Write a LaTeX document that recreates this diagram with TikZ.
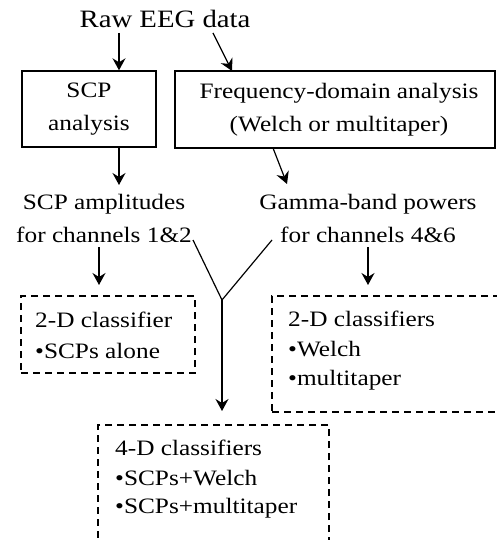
\documentclass[tikz,border=0pt]{standalone}
\usepackage{fontspec}
\setmainfont[FakeStretch=1.15]{Liberation Serif}
\usetikzlibrary{arrows.meta}
\begin{document}
\begin{tikzpicture}[x=1pt,y=-1pt,
  arr/.style={line width=1.2pt,-{Stealth[length=12pt,width=13pt,inset=4pt]}},
  solidbox/.style={draw,line width=1.4pt,inner sep=0pt,align=center,font=\fontsize{22}{33}\selectfont},
  dashbox/.style={draw,line width=1.4pt,dash pattern=on 7pt off 5pt,inner sep=0pt},
  lbl/.style={font=\fontsize{22}{30}\selectfont,inner sep=0pt},
  plain/.style={line width=1.2pt}]
\clip (0,0) rectangle (497,540);
% title
\node[lbl,font=\fontsize{25}{30}\selectfont,anchor=base] (raw) at (165,28) {Raw EEG data};
% solid boxes
\node[solidbox,minimum width=134pt,minimum height=76pt] (scp) at (89,109) {SCP\\analysis};
\node[solidbox,minimum width=320pt,minimum height=77pt] (freq) at (335,109.5) {\hspace*{8pt}Frequency-domain analysis\\\hspace*{8pt}(Welch or multitaper)};
% intermediate texts
\node[lbl,anchor=base] (amp1) at (104,209) {SCP amplitudes};
\node[lbl,anchor=base] (amp2) at (104,242) {for channels 1\&2};
\node[lbl,anchor=base] (gam1) at (368,209) {Gamma-band powers};
\node[lbl,anchor=base] (gam2) at (368,242) {for channels 4\&6};
% dashed boxes
\node[dashbox,minimum width=174pt,minimum height=77pt] (box1) at (108,334.5) {};
\node[dashbox,minimum width=230pt,minimum height=116pt] (box2) at (387,354) {};
\node[dashbox,minimum width=231pt,minimum height=116pt] (box3) at (213.5,483) {};
\node[lbl,anchor=base west] (t1a) at (35,327) {2-D classifier};
\node[lbl,anchor=base west] (t1b) at (35,358) {•SCPs alone};
\node[lbl,anchor=base west] (t2a) at (288,326) {2-D classifiers};
\node[lbl,anchor=base west] (t2b) at (288,356) {•Welch};
\node[lbl,anchor=base west] (t2c) at (288,385) {•multitaper};
\node[lbl,anchor=base west] (t3a) at (115,455) {4-D classifiers};
\node[lbl,anchor=base west] (t3b) at (115,485) {•SCPs+Welch};
\node[lbl,anchor=base west] (t3c) at (115,513) {•SCPs+multitaper};
% connector coordinates
\coordinate (c1) at (119,33);
\coordinate (c2s) at (213,33);
\coordinate (c2e) at (232,71);
\coordinate (c3s) at (119,148);
\coordinate (c3e) at (119,185);
\coordinate (c4s) at (273,148);
\coordinate (c4e) at (287,184);
\coordinate (c5s) at (99,247);
\coordinate (c5e) at (99,285);
\coordinate (c6s) at (368,247);
\coordinate (c6e) at (368,285);
\coordinate (yl) at (193,240);
\coordinate (yr) at (272,240);
\coordinate (yj) at (222,300);
\coordinate (ye) at (222,411);
% connectors
\draw[arr] (c1) -- (c1 |- scp.north);
\draw[arr] (c2s) -- (c2e);
\draw[arr] (c3s) -- (c3e);
\draw[arr] (c4s) -- (c4e);
\draw[arr] (c5s) -- (c5e);
\draw[arr] (c6s) -- (c6e);
\draw[plain] (yl) -- (yj) -- (yr);
\draw[arr] (yj) -- (ye);
\end{tikzpicture}
\end{document}
